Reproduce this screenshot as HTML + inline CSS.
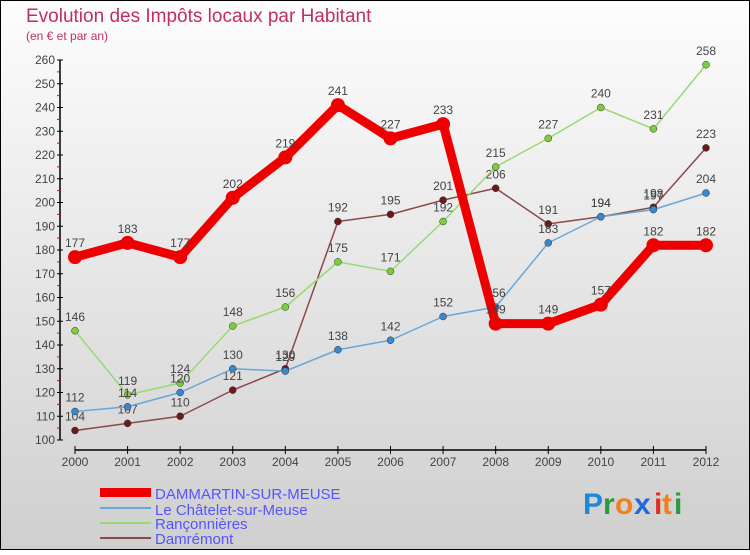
<!DOCTYPE html>
<html><head><meta charset="utf-8"><style>
body{margin:0}
#c{width:750px;height:550px;position:relative;font-family:"Liberation Sans",sans-serif}
</style></head><body>
<div id="c">
<svg id="s" width="750" height="550" xmlns="http://www.w3.org/2000/svg">
<defs><linearGradient id="bg" x1="0" y1="0" x2="0" y2="1"><stop offset="0" stop-color="#fdfdfd"/><stop offset="1" stop-color="#cfcfcf"/></linearGradient></defs>
<rect x="0.5" y="0.5" width="749" height="549" fill="url(#bg)" stroke="#000"/>
<text x="26" y="22" font-size="19" fill="#c0305a">Evolution des Impôts locaux par Habitant</text>
<text x="26" y="40" font-size="12" fill="#c0305a">(en € et par an)</text>
<g id="axes"></g><g id="series"></g>
<g>
<rect x="100" y="488" width="51" height="9" fill="#e00"/>
<text x="155" y="499" font-size="15" fill="#5555ff">DAMMARTIN-SUR-MEUSE</text>
<rect x="100" y="507" width="51" height="2" fill="#6aa6d6"/>
<text x="155" y="515" font-size="15" fill="#5555ff">Le Châtelet-sur-Meuse</text>
<rect x="100" y="522" width="51" height="2" fill="#99d970"/>
<text x="155" y="529" font-size="15" fill="#5555ff">Rançonnières</text>
<rect x="100" y="537" width="51" height="2" fill="#8b4a4a"/>
<text x="155" y="544" font-size="15" fill="#5555ff">Damrémont</text>
</g>
<g font-size="30" font-weight="bold">
<text x="583" y="514" fill="#1e88d8">P</text><text x="603" y="514" fill="#2a9a3a">r</text><text x="615" y="514" fill="#f08020">o</text><text x="634" y="514" fill="#1e6ad8">x</text><text x="654" y="514" fill="#e03020">i</text><text x="662" y="514" fill="#f08020">t</text><text x="674" y="514" fill="#2a9a3a">i</text>
</g>
</svg></div>
<script>
const years=["2000","2001","2002","2003","2004","2005","2006","2007","2008","2009","2010","2011","2012"];
const yTicks=[100,110,120,130,140,150,160,170,180,190,200,210,220,230,240,250,260];
const dammartin=[177,183,177,202,219,241,227,233,149,149,157,182,182];
const chatelet=[112,114,120,130,129,138,142,152,156,183,194,197,204];
const ranconnieres=[146,119,124,148,156,175,171,192,215,227,240,231,258];
const damremont=[104,107,110,121,130,192,195,201,206,191,194,198,223];
const NS="http://www.w3.org/2000/svg";
const xS=i=>75+i*(706-75)/12;
const yS=v=>440-(v-100)*(380/160);
function mk(t,a,p){const e=document.createElementNS(NS,t);for(const k in a)e.setAttribute(k,a[k]);p.appendChild(e);return e;}
const ax=document.getElementById('axes');
let l=mk('line',{x1:60,y1:yS(260),x2:60,y2:yS(100),stroke:'#000','stroke-width':1.5},ax);


l=mk('line',{x1:75,y1:450,x2:706,y2:450,stroke:'#000','stroke-width':1.5},ax);


yTicks.forEach((v,i)=>{
 mk('line',{x1:57,y1:yS(v),x2:63,y2:yS(v),stroke:'#000'},ax);
 if(i<yTicks.length-1)mk('line',{x1:57,y1:yS(v+5),x2:60,y2:yS(v+5),stroke:'#e00'},ax);
 const t=mk('text',{x:55,y:yS(v)+4,'text-anchor':'end','font-size':12,fill:'#444'},ax);t.textContent=v;
 
 
});
years.forEach((y,i)=>{
 mk('line',{x1:xS(i),y1:446,x2:xS(i),y2:454,stroke:'#000'},ax);
 const t=mk('text',{x:xS(i),y:466,'text-anchor':'middle','font-size':12,fill:'#444'},ax);t.textContent=y;
 
 
});
const sg=document.getElementById('series');
function series(data,color,w,r,dot,name){
 const g=mk('g',{},sg);
 
 
 const p=mk('polyline',{points:data.map((v,i)=>xS(i)+','+yS(v)).join(' '),fill:'none',stroke:color,'stroke-width':w,'stroke-linejoin':'round'},g);
 data.forEach((v,i)=>{
  const c=mk('circle',{cx:xS(i),cy:yS(v),r:r,fill:dot,stroke:'#333','stroke-width':r>4?0:0.5},g);
  
  
  const t=mk('text',{x:xS(i),y:yS(v)-10,'text-anchor':'middle','font-size':12,fill:'#444'},g);t.textContent=v;
  
  
 });
}
series(damremont,'#8b4a4a',1.5,3.5,'#6a1a1a','series-damremont');
series(ranconnieres,'#99d970',1.5,3.5,'#7ccc3c','series-ranconnieres');
series(chatelet,'#6aa6d6',1.5,3.5,'#3a88cc','series-chatelet');
series(dammartin,'#ee0000',9,7,'#ee0000','series-dammartin');
</script>
</body></html>
